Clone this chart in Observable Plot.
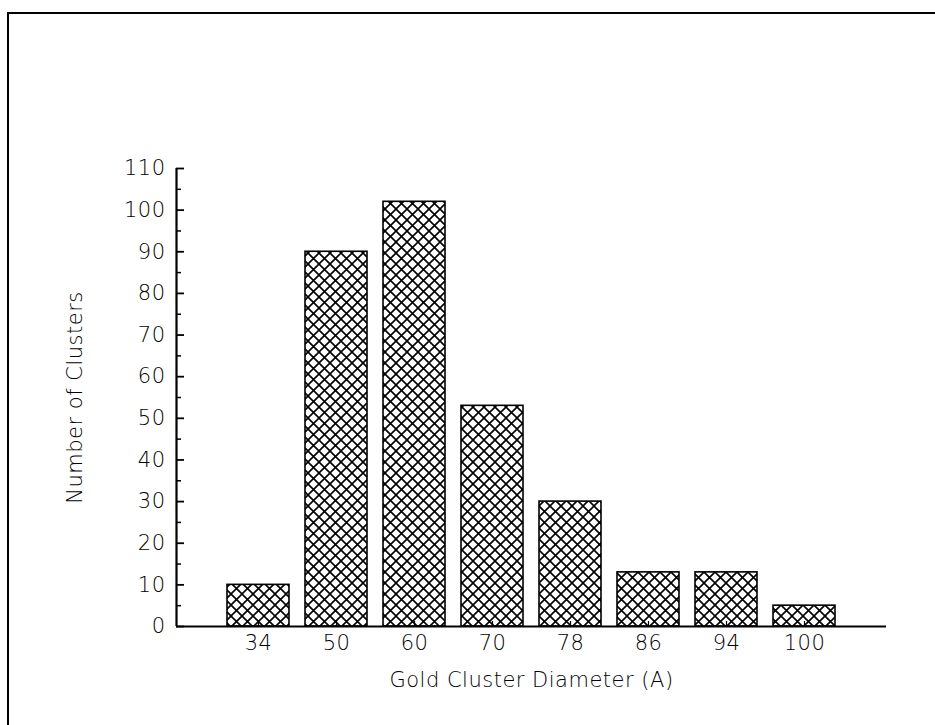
<!DOCTYPE html>
<html>
<head>
<meta charset="utf-8">
<script src="https://cdn.jsdelivr.net/npm/d3@7"></script>
<script src="https://cdn.jsdelivr.net/npm/@observablehq/plot@0.6"></script>
<style>
  html, body { margin: 0; padding: 0; background: #fff; }
  #wrap { position: relative; width: 935px; height: 725px; overflow: hidden; }
  #border { position: absolute; left: 7px; top: 12px; right: -5px; bottom: -5px;
            border-left: 2px solid #000; border-top: 2px solid #000; pointer-events: none; }
  #wrap svg text { letter-spacing: 0.5px; }
</style>
</head>
<body>
<div id="wrap"><div id="border"></div></div>
<script>
const diameters = ["34", "50", "60", "70", "78", "86", "94", "100"];
const counts = [10, 90, 102, 53, 30, 13, 13, 5];
const yMajorTicks = [0, 10, 20, 30, 40, 50, 60, 70, 80, 90, 100, 110];
const yMinorTicks = [5, 15, 25, 35, 45, 55, 65, 75, 85, 95, 105];
const xLabel = "Gold Cluster Diameter (A)";
const yLabel = "Number of Clusters";

const data = diameters.map((d, i) => ({d, n: counts[i]}));
const W = 935, H = 725, mL = 176, mR = 49, mT = 168, mB = 99;
const fw = W - mL - mR, fh = H - mT - mB;

const chart = Plot.plot({
  width: W, height: H,
  marginLeft: mL, marginRight: mR, marginTop: mT, marginBottom: mB,
  style: {fontFamily: "'DejaVu Sans', sans-serif", fontSize: "21px", color: "#000", background: "#fff"},
  x: {type: "band", domain: diameters, paddingInner: 0.21, paddingOuter: 0.63, label: null},
  y: {domain: [0, 110], label: null},
  marks: [
    Plot.barY(data, {x: "d", y: "n", fill: "url(#hatch)", stroke: "#000", strokeWidth: 1.6}),
    Plot.tickX(diameters, {x: d => d, stroke: "#000", strokeWidth: 1.2, insetTop: fh - 5}),
    Plot.tickY(yMajorTicks, {y: d => d, stroke: "#000", strokeWidth: 1.8, insetRight: fw - 8}),
    Plot.tickY(yMinorTicks, {y: d => d, stroke: "#000", strokeWidth: 1.5, insetRight: fw - 5}),
    Plot.axisY({ticks: yMajorTicks, tickSize: 0, tickPadding: 11, label: null, fontWeight: 300}),
    Plot.axisX({tickSize: 0, tickPadding: 9, label: null, fontWeight: 300}),
    Plot.ruleY([0], {stroke: "#000", strokeWidth: 2.2}),
    Plot.ruleX([0], {x: null, dx: -fw / 2, stroke: "#000", strokeWidth: 2.2}),
    Plot.text([yLabel], {frameAnchor: "left", textAnchor: "middle", rotate: -90, dx: -101, fontWeight: 300}),
    Plot.text([xLabel], {frameAnchor: "bottom", textAnchor: "middle", dy: 60, fontWeight: 300})
  ]
});

const svg = d3.select(chart);
const defs = svg.insert("defs", ":first-child");
const pat = defs.append("pattern")
  .attr("id", "hatch").attr("patternUnits", "userSpaceOnUse")
  .attr("width", 11).attr("height", 11);
pat.append("rect").attr("width", 11).attr("height", 11).attr("fill", "#fff");
pat.append("path").attr("d", "M-1,-1L12,12M-1,12L12,-1")
  .attr("stroke", "#000").attr("stroke-width", 1.6).attr("fill", "none");

document.getElementById("wrap").appendChild(chart);
</script>
</body>
</html>
